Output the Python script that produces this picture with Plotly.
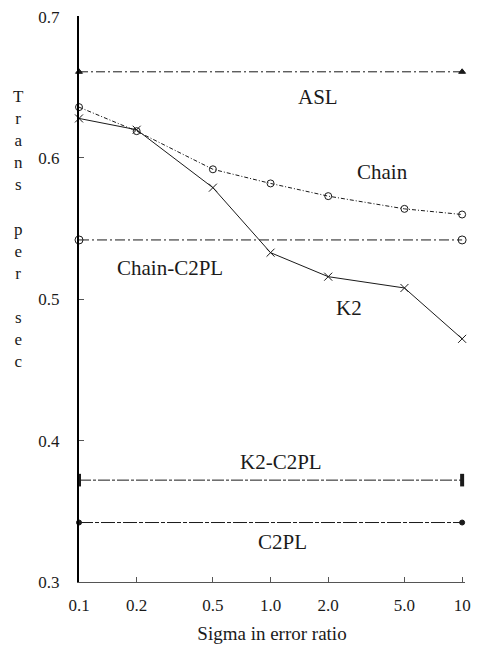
import plotly.graph_objects as go
import math

# ---- data ----
sigma = [0.1, 0.2, 0.5, 1.0, 2.0, 5.0, 10]
tick_labels = ["0.1", "0.2", "0.5", "1.0", "2.0", "5.0", "10"]
chain = [0.636, 0.619, 0.592, 0.582, 0.573, 0.564, 0.560]
k2 = [0.628, 0.620, 0.579, 0.533, 0.516, 0.508, 0.472]
ends = [0.1, 10]
asl = [0.661, 0.661]
chain_c2pl = [0.542, 0.542]
k2_c2pl = [0.372, 0.372]
c2pl = [0.342, 0.342]
y_ticks = [0.3, 0.4, 0.5, 0.6, 0.7]
y_tick_labels = ["0.3", "0.4", "0.5", "0.6", "0.7"]

FONT = "'Liberation Serif', 'DejaVu Serif', 'Times New Roman', serif"
INK = "#1a1a1a"

fig = go.Figure()

def add(x, y, name, dash, symbol, msize, mline=1, width=1):
    fig.add_trace(go.Scatter(
        x=x, y=y, name=name, mode="lines+markers",
        line=dict(color=INK, width=width, dash=dash),
        marker=dict(symbol=symbol, size=msize, color=INK,
                    line=dict(color=INK, width=mline)),
        showlegend=False, cliponaxis=False))

add(ends, asl, "ASL", "9px,3px,2px,3px", "triangle-up", 6)
add(sigma, chain, "Chain", "4px,2px,1px,2px", "circle-open", 7)
add(sigma, k2, "K2", "solid", "x-thin-open", 8)
add(ends, chain_c2pl, "Chain-C2PL", "10px,3px,2px,3px", "circle-open", 8)
add(ends, k2_c2pl, "K2-C2PL", "12px,2px,3px,2px", "line-ns-open", 9, mline=4)
add(ends, c2pl, "C2PL", "14px,2px,4px,2px", "circle", 5)

# ---- curve labels ----
label_text = ["ASL", "Chain", "Chain-C2PL", "K2", "K2-C2PL", "C2PL"]
label_pos = [(1.76, 0.643), (3.83, 0.590), (0.298, 0.522),
             (2.58, 0.494), (1.13, 0.385), (1.15, 0.328)]
for t, (lx, ly) in zip(label_text, label_pos):
    fig.add_annotation(x=math.log10(lx), y=ly, text=t, showarrow=False,
                       xref="x", yref="y",
                       font=dict(family=FONT, size=21, color=INK))

# ---- vertical y-axis title ----
fig.add_annotation(
    x=-0.0, xref="paper", xanchor="center", y=0.5, yref="paper",
    text="T<br>r<br>a<br>n<br>s<br> <br>p<br>e<br>r<br> <br>s<br>e<br>c",
    showarrow=False, xshift=-61, yshift=70,
    font=dict(family=FONT, size=17, color=INK))

# page body keeps an 8px margin, so the figure is 8px smaller than the window
fig.update_layout(
    width=471, height=644,
    margin=dict(l=71, r=14, t=8, b=70, autoexpand=False),
    paper_bgcolor="white", plot_bgcolor="white",
    font=dict(family=FONT, size=17, color=INK),
)
fig.update_xaxes(
    type="log", range=[-1, 1.015], automargin=False,
    tickvals=sigma, ticktext=tick_labels,
    showgrid=False, zeroline=False,
    showline=True, linecolor="#555", linewidth=1,
    ticks="inside", ticklen=5, tickcolor="#555",
    ticklabelstandoff=8,
    title=dict(text="Sigma in error ratio", standoff=12,
               font=dict(family=FONT, size=19, color=INK)),
    tickfont=dict(family=FONT, size=17, color=INK),
)
fig.update_yaxes(
    range=[0.2999, 0.7005], automargin=False,
    tickvals=y_ticks, ticktext=y_tick_labels,
    showgrid=False, zeroline=False,
    showline=True, linecolor="black", linewidth=2,
    ticks="inside", ticklen=5, tickcolor="#555",
    ticklabelstandoff=14, ticklabeloverflow="allow",
    tickfont=dict(family=FONT, size=17, color=INK),
)

fig.write_html("out.html")
